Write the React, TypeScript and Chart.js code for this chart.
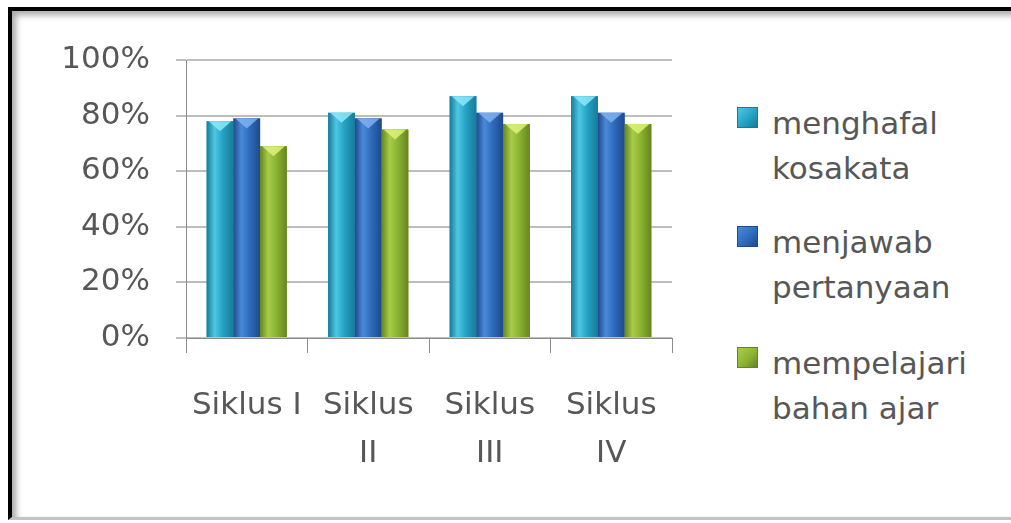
import React, { useEffect, useRef } from "react";
import { Chart, registerables } from "chart.js";

Chart.register(...registerables);

const categories: (string | string[])[] = ["Siklus I", ["Siklus", "II"], ["Siklus", "III"], ["Siklus", "IV"]];
const menghafalKosakata = [78, 81, 87, 87];
const menjawabPertanyaan = [79, 79, 81, 81];
const mempelajariBahanAjar = [69, 75, 77, 77];
const seriesNames = ["menghafal kosakata", "menjawab pertanyaan", "mempelajari bahan ajar"];
const legendLines = [
  ["menghafal", "kosakata"],
  ["menjawab", "pertanyaan"],
  ["mempelajari", "bahan ajar"],
];
const yMin = 0;
const yMax = 100;
const yStep = 20;

const palette = [
  { base: "#25a2c4", light: "#4ec7e4", dark: "#177b98", cap: "#8fe7f8" },
  { base: "#2e6bbd", light: "#4a89d8", dark: "#1e4a8a", cap: "#7fb1ef" },
  { base: "#8bb433", light: "#a7cc49", dark: "#65851e", cap: "#dbf27c" },
];

const FONT = "'DejaVu Sans', sans-serif";
const TEXT = "#575757";

const bar3d = {
  id: "bar3d",
  afterDatasetsDraw(chart: any) {
    const ctx = chart.ctx;
    chart.data.datasets.forEach((_ds: any, di: number) => {
      const meta = chart.getDatasetMeta(di);
      const p = palette[di];
      meta.data.forEach((el: any) => {
        const { x, y, base, width } = el.getProps(["x", "y", "base", "width"], true);
        const l = x - width / 2;
        ctx.save();
        const g = ctx.createLinearGradient(l, 0, l + width, 0);
        g.addColorStop(0, p.dark);
        g.addColorStop(0.3, p.light);
        g.addColorStop(0.6, p.base);
        g.addColorStop(1, p.dark);
        ctx.fillStyle = g;
        ctx.fillRect(l, y, width, base - y);
        ctx.beginPath();
        ctx.moveTo(l + 2, y);
        ctx.lineTo(l + width - 2, y);
        ctx.lineTo(x, y + 10);
        ctx.closePath();
        ctx.globalAlpha = 0.85;
        ctx.fillStyle = p.cap;
        ctx.fill();
        ctx.restore();
      });
    });
  },
};

export default function App() {
  const ref = useRef<HTMLCanvasElement | null>(null);

  useEffect(() => {
    if (!ref.current) return;
    const series = [menghafalKosakata, menjawabPertanyaan, mempelajariBahanAjar];
    const chart = new Chart(ref.current, {
      type: "bar",
      data: {
        labels: categories as any,
        datasets: series.map((d, i) => ({
          label: seriesNames[i],
          data: d,
          backgroundColor: palette[i].base,
          borderWidth: 0,
          categoryPercentage: 0.66,
          barPercentage: 1,
        })),
      },
      options: {
        responsive: false,
        animation: false,
        devicePixelRatio: 1,
        layout: { padding: { left: 0, top: 60, right: 18, bottom: 0 } },
        plugins: { legend: { display: false }, tooltip: { enabled: false } },
        scales: {
          x: {
            grid: { drawOnChartArea: false, offset: true, tickLength: 15, color: "#8c8c8c", lineWidth: 1 },
            border: { color: "#8c8c8c", width: 1 },
            ticks: {
              font: { family: FONT, size: 31, lineHeight: 1.55 },
              color: TEXT,
              padding: 29,
              maxRotation: 0,
              autoSkip: false,
            },
            afterFit: (s: any) => {
              s.height = 185;
            },
          },
          y: {
            min: yMin,
            max: yMax,
            ticks: {
              stepSize: yStep,
              callback: (v: any) => v + "%",
              font: { family: FONT, size: 31 },
              color: TEXT,
              padding: 26,
            },
            grid: { color: "#bdbdbd", lineWidth: 2, tickLength: 10 },
            border: { color: "#8c8c8c", width: 1 },
            afterFit: (s: any) => {
              s.width = 186;
            },
          },
        },
      },
      plugins: [bar3d],
    });
    return () => chart.destroy();
  }, []);

  const legendTops = [101, 220, 341];

  return (
    <div
      style={{
        position: "absolute",
        left: 0,
        top: 0,
        width: 1011,
        height: 523,
        background: "#fff",
        overflow: "hidden",
      }}
    >
      <div
        style={{
          position: "absolute",
          left: 8,
          top: 7,
          width: 1020,
          height: 506,
          borderLeft: "4px solid #000",
          borderTop: "4px solid #000",
          borderBottom: "3px solid #c4c4c4",
          boxShadow: "inset 4px 4px 6px rgba(0,0,0,0.35)",
        }}
      />
      <canvas
        ref={ref}
        width={690}
        height={523}
        style={{ position: "absolute", left: 0, top: 0, width: 690, height: 523 }}
      />
      {legendLines.map((lines, i) => (
        <div key={i} style={{ position: "absolute", left: 737, top: legendTops[i] }}>
          <div
            style={{
              position: "absolute",
              left: 0,
              top: 6,
              width: 21,
              height: 21,
              boxSizing: "border-box",
              border: `1px solid ${palette[i].dark}`,
              background: `linear-gradient(135deg, ${palette[i].light}, ${palette[i].base} 55%, ${palette[i].dark})`,
            }}
          />
          <div
            style={{
              position: "absolute",
              left: 35,
              top: 0,
              fontFamily: FONT,
              fontSize: 31,
              lineHeight: "45px",
              color: TEXT,
              whiteSpace: "nowrap",
            }}
          >
            {lines.map((t, j) => (
              <div key={j}>{t}</div>
            ))}
          </div>
        </div>
      ))}
    </div>
  );
}
